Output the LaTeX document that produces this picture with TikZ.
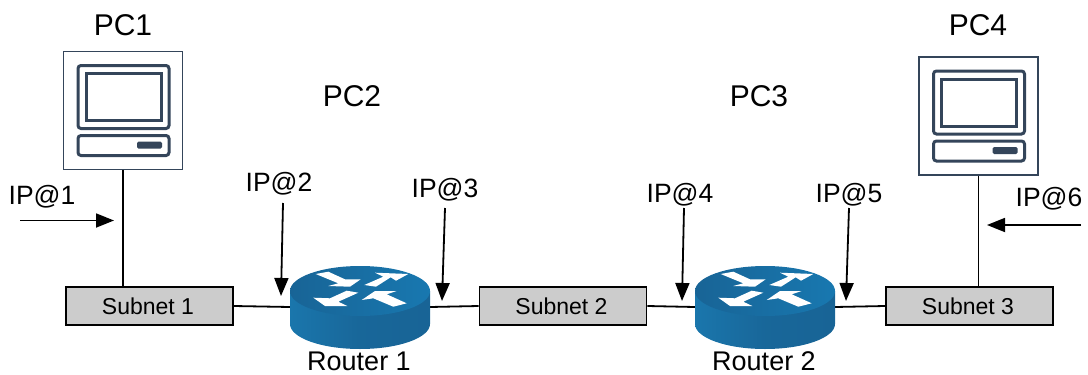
\documentclass[tikz,border=0pt]{standalone}
\usepackage{fontspec}
\setmainfont{Liberation Sans}
\usepackage{xcolor}
\usepackage{tikz}
\usetikzlibrary{arrows.meta}
\definecolor{pcblue}{RGB}{52,69,90}
\definecolor{subnetgray}{RGB}{204,204,204}
\definecolor{routertop}{RGB}{24,120,176}
\definecolor{routerdark}{RGB}{24,100,150}
\definecolor{routerside}{RGB}{26,118,172}
\tikzset{
  subnetbox/.style={draw, line width=1.6pt, fill=subnetgray, minimum width=167pt, minimum height=38pt, inner sep=0pt, font=\fontsize{23}{26}\selectfont},
  pcbox/.style={draw=pcblue, line width=1.6pt, fill=white, minimum width=119pt, minimum height=118pt, inner sep=0pt},
  routerbox/.style={minimum width=140pt, minimum height=84pt, inner sep=0pt},
  namelabel/.style={inner sep=0pt, font=\fontsize{30}{34}\selectfont},
  iplabel/.style={inner sep=0pt, font=\fontsize{26.5}{30}\selectfont},
  routerlabel/.style={inner sep=0pt, font=\fontsize{27}{31}\selectfont},
  wire/.style={line width=1.8pt},
  iparrow/.style={line width=1.8pt, -{Triangle[length=18pt,width=14pt]}},
  pcpart/.style={draw=pcblue, line width=3pt, rounded corners=3pt},
  routerarrow/.style={fill=white, draw=none},
  pcpic/.pic={
    \draw[pcpart] (-45,-45) rectangle (46,18);
    \draw[pcpart, rounded corners=0pt] (-37,-37) rectangle (38,10);
    \draw[pcpart] (-45,25) rectangle (46,45);
    \fill[pcblue, rounded corners=1.5pt] (14,31) rectangle (39,38);
  },
  routerpic/.pic={
    \shade[left color=routerside, right color=routerdark, middle color=routerdark!85!routerside]
      (-70,-16) -- (-70,17) .. controls (-70,30.8) and (-38.7,42) .. (0,42)
      .. controls (38.7,42) and (70,30.8) .. (70,17) -- (70,-16) -- cycle;
    \shade[left color=routerdark, right color=routertop] (0,-16) ellipse [x radius=70pt, y radius=25pt];
    \fill[routerarrow] (-44.3,-33) -- (-31.7,-35.3) -- (-15,-27.7) -- (0.7,-27.7) -- (-10,-20.3) -- (-31.7,-21) -- (-21.7,-23.7) -- cycle;
    \fill[routerarrow] (4.3,-22) -- (23.3,-30.3) -- (15,-34.3) -- (48.3,-33) -- (36,-26.3) -- (30.7,-29.7) -- (16,-20.3) -- cycle;
    \fill[routerarrow] (-1.7,-14.3) -- (-13.3,-16.3) -- (-30,-8.7) -- (-46.7,-9.3) -- (-35,-1) -- (-12.7,-1) -- (-21.7,-5.3) -- cycle;
    \fill[routerarrow] (1.7,-7) -- (15,-16) -- (36.7,-16) -- (26.7,-12.7) -- (46.7,-3.7) -- (33.3,-0.3) -- (13.3,-8.7) -- cycle;
  }
}

\begin{document}
\begin{tikzpicture}[x=1pt, y=-1pt]
\useasboundingbox (0,0) rectangle (1088,375);

% the two end hosts
\node[pcbox] (pc1) at (123,110.5) {}; \pic at (pc1) {pcpic};
\node[pcbox] (pc4) at (978.5,116) {}; \pic at (pc4) {pcpic};

\node[namelabel] (pc1label) at (123,25) {PC1};
\node[namelabel] (pc2label) at (352,96) {PC2};
\node[namelabel] (pc3label) at (759,96) {PC3};
\node[namelabel] (pc4label) at (978,25) {PC4};

\node[subnetbox] (subnet1) at (149.5,306) {\hspace*{-3pt}Subnet 1};
\node[subnetbox] (subnet2) at (563,306) {\hspace*{-3pt}Subnet 2};
\node[subnetbox] (subnet3) at (969.5,306) {\hspace*{-3pt}Subnet 3};

\node[routerbox] (router1) at (360,307) {};
\node[routerbox] (router2) at (765,307) {};

\draw[wire] (pc1.south) -- (pc1.south |- subnet1.north);
\draw[wire] (pc4.south) -- (pc4.south |- subnet3.north);
\draw[wire] (subnet1.east) -- (router1.west);
\draw[wire] (router1.east) -- (subnet2.west);
\draw[wire] (subnet2.east) -- (router2.west);
\draw[wire] (router2.east) -- (subnet3.west);

\pic at (router1) {routerpic};
\pic at (router2) {routerpic};
\node[routerlabel] (router1label) at (359,361.5) {Router 1};
\node[routerlabel] (router2label) at (764,361.5) {Router 2};

% addresses
\node[iplabel] (ip1) at (42,197) {IP@1};
\node[iplabel] (ip2) at (279,184) {IP@2};
\node[iplabel] (ip3) at (445,190) {IP@3};
\node[iplabel] (ip4) at (680,195) {IP@4};
\node[iplabel] (ip5) at (849,195) {IP@5};
\node[iplabel] (ip6) at (1049,199) {IP@6};

\coordinate (ip1start) at (20,220.5); \coordinate (ip1end) at (114,220.5);
\coordinate (ip2start) at (283,203); \coordinate (ip2end) at (281,296);
\coordinate (ip3start) at (445,208); \coordinate (ip3end) at (442,301);
\coordinate (ip4start) at (684,208); \coordinate (ip4end) at (682,301);
\coordinate (ip5start) at (849,208); \coordinate (ip5end) at (846,301);
\coordinate (ip6start) at (1081,225); \coordinate (ip6end) at (987,225);
\draw[iparrow] (ip1start) -- (ip1end);
\draw[iparrow] (ip2start) -- (ip2end);
\draw[iparrow] (ip3start) -- (ip3end);
\draw[iparrow] (ip4start) -- (ip4end);
\draw[iparrow] (ip5start) -- (ip5end);
\draw[iparrow] (ip6start) -- (ip6end);
\end{tikzpicture}
\end{document}
